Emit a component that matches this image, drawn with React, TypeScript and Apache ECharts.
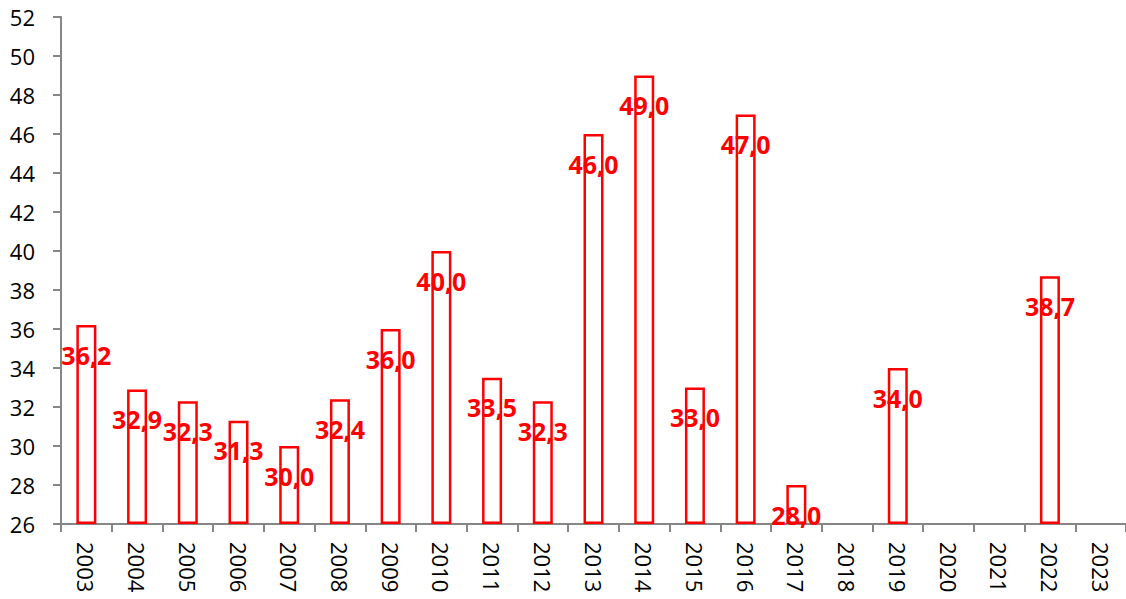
import React, { useEffect, useRef } from "react";
import * as echarts from "echarts";

const years: string[] = [
  "2003", "2004", "2005", "2006", "2007", "2008", "2009", "2010", "2011", "2012",
  "2013", "2014", "2015", "2016", "2017", "2018", "2019", "2020", "2021", "2022", "2023",
];

const values: (number | null)[] = [
  36.2, 32.9, 32.3, 31.3, 30.0, 32.4, 36.0, 40.0, 33.5, 32.3,
  46.0, 49.0, 33.0, 47.0, 28.0, null, 34.0, null, null, 38.7, null,
];

const axisMin = 26;
const axisMax = 52;
const axisStep = 2;

export default function App() {
  const ref = useRef<HTMLDivElement>(null);

  useEffect(() => {
    if (!ref.current) return;
    const chart = echarts.init(ref.current, undefined, { renderer: "svg" });
    const base = values.map((v) => (v == null ? null : axisMin));
    const rest = values.map((v) => (v == null ? null : v - axisMin));
    chart.setOption({
      animation: false,
      backgroundColor: "#ffffff",
      grid: { left: 61, right: -4.5, top: 17, bottom: 75, containLabel: false },
      xAxis: {
        type: "category",
        data: years,
        boundaryGap: true,
        axisLine: { show: true, lineStyle: { color: "#868686", width: 2 } },
        axisTick: { show: true, alignWithLabel: false, length: 8, lineStyle: { color: "#868686", width: 2 } },
        axisLabel: {
          rotate: -90,
          margin: 18,
          fontSize: 22,
          color: "#000000",
          fontFamily: "Open Sans",
          interval: 0,
        },
        splitLine: { show: false },
        z: 1,
      },
      yAxis: {
        type: "value",
        min: axisMin,
        max: axisMax,
        interval: axisStep,
        axisLine: { show: true, lineStyle: { color: "#868686", width: 2 } },
        axisTick: { show: true, length: 8, lineStyle: { color: "#868686", width: 2 } },
        axisLabel: {
          margin: 26,
          fontSize: 22,
          color: "#000000",
          fontFamily: "Open Sans",
        },
        splitLine: { show: false },
      },
      series: [
        {
          type: "bar",
          stack: "s",
          data: base,
          barWidth: 20,
          silent: true,
          itemStyle: { color: "transparent", borderWidth: 0 },
          label: { show: false },
          z: 1,
        },
        {
          type: "bar",
          stack: "s",
          data: rest,
          barWidth: 20,
          clip: false,
          itemStyle: { color: "#ffffff", borderColor: "#ff0000", borderWidth: 2.5 },
          label: {
            show: true,
            position: "insideTop",
            distance: 17,
            fontSize: 25,
            fontWeight: "bold",
            fontFamily: "Open Sans",
            color: "#ff0000",
            formatter: (p: any) => {
              const v = values[p.dataIndex];
              return v == null ? "" : v.toFixed(1).replace(".", ",");
            },
          },
          z: 3,
        },
      ],
    });
    return () => chart.dispose();
  }, []);

  return (
    <div
      ref={ref}
      style={{ position: "absolute", left: 0, top: 0, width: 1126, height: 599 }}
    />
  );
}
